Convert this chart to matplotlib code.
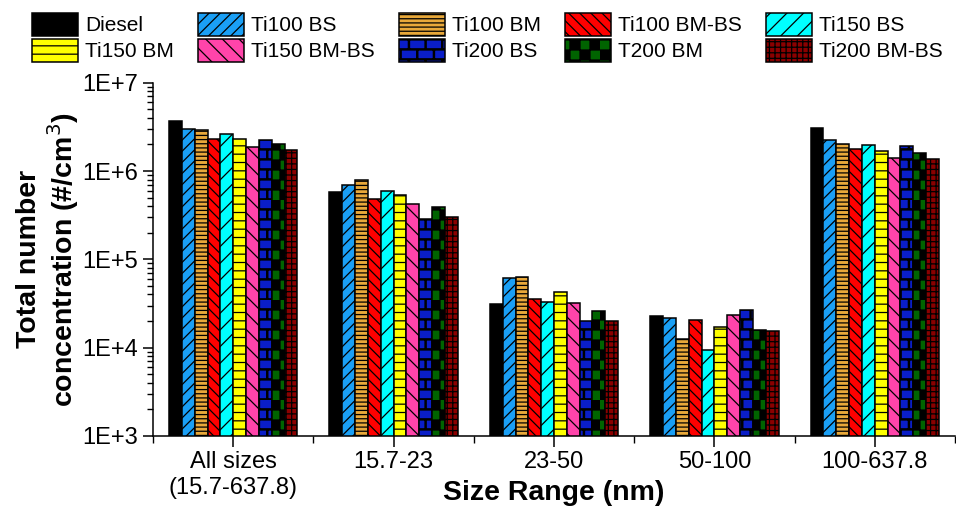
import numpy as np
import matplotlib
matplotlib.use("Agg")
import matplotlib.pyplot as plt
import matplotlib.hatch as mhatch
from matplotlib.path import Path
import warnings

warnings.filterwarnings("ignore")

# --- Data ---
size_ranges = ["All sizes\n(15.7-637.8)", "15.7-23", "23-50", "50-100", "100-637.8"]
fuels = ["Diesel", "Ti100 BS", "Ti100 BM", "Ti100 BM-BS", "Ti150 BS",
         "Ti150 BM", "Ti150 BM-BS", "Ti200 BS", "T200 BM", "Ti200 BM-BS"]

diesel = [3.7e6, 5.8e5, 3.1e4, 2.3e4, 3.05e6]
ti100_bs = [3.0e6, 7.0e5, 6.1e4, 2.15e4, 2.25e6]
ti100_bm = [2.9e6, 8.0e5, 6.25e4, 1.27e4, 2.04e6]
ti100_bmbs = [2.3e6, 4.8e5, 3.6e4, 2.05e4, 1.76e6]
ti150_bs = [2.6e6, 6.0e5, 3.3e4, 9.3e3, 1.98e6]
ti150_bm = [2.3e6, 5.3e5, 4.3e4, 1.7e4, 1.7e6]
ti150_bmbs = [1.88e6, 4.2e5, 3.2e4, 2.35e4, 1.42e6]
ti200_bs = [2.22e6, 2.9e5, 2.0e4, 2.7e4, 1.9e6]
t200_bm = [2.04e6, 3.9e5, 2.6e4, 1.57e4, 1.59e6]
ti200_bmbs = [1.71e6, 3.05e5, 2.0e4, 1.53e4, 1.38e6]

series = [diesel, ti100_bs, ti100_bm, ti100_bmbs, ti150_bs,
          ti150_bm, ti150_bmbs, ti200_bs, t200_bm, ti200_bmbs]

ytick_vals = [1e3, 1e4, 1e5, 1e6, 1e7]
ytick_labels = ["1E+3", "1E+4", "1E+5", "1E+6", "1E+7"]


# --- extra hatches: checkerboard ('c') and brick ('b') ---
def _rect(x0, y0, w, h):
    return [(x0, y0), (x0 + w, y0), (x0 + w, y0 + h), (x0, y0 + h), (x0, y0)]


class RectHatch(mhatch.HatchPatternBase):
    filled = True

    def __init__(self, hatch, density):
        self.rects = self.make_rects(hatch)
        self.num_vertices = 5 * len(self.rects)

    def set_vertices_and_codes(self, vertices, codes):
        for k, r in enumerate(self.rects):
            vertices[5 * k:5 * k + 5] = _rect(*r)
            codes[5 * k:5 * k + 5] = [Path.MOVETO, Path.LINETO, Path.LINETO,
                                      Path.LINETO, Path.CLOSEPOLY]


class CheckerHatch(RectHatch):
    def make_rects(self, hatch):
        n = 10 * hatch.count("c")
        if n == 0:
            return []
        s = 1.0 / n
        return [(i * s, j * s, s, s) for i in range(n) for j in range(n)
                if (i + j) % 2 == 0]


class BrickHatch(RectHatch):
    def make_rects(self, hatch):
        if hatch.count("b") == 0:
            return []
        rows, cols, t = 10, 6, 0.012
        h, w = 1.0 / rows, 1.0 / cols
        rects = []
        for r in range(rows):
            rects.append((0, r * h, 1, t))
            off = (r % 2) * w / 2
            for k in range(cols):
                rects.append((off + k * w, r * h + t, t, h - t))
        return rects


mhatch._hatch_types.extend([CheckerHatch, BrickHatch])

colors = ["black", "#1a9ff5", "#e8a83a", "#ff0000", "#00ffff",
          "#ffff00", "#ff44aa", "#0a1ec8", "#006400", "#8b0000"]
hatches = [None, "///", "----", "\\\\\\", "//",
           "--", "\\\\", "b", "c", "+++"]

plt.rcParams["font.family"] = ["Liberation Sans", "DejaVu Sans"]
plt.rcParams["hatch.linewidth"] = 0.9

fig = plt.figure(figsize=(9.56, 5.09), dpi=100)
ax = fig.add_axes([153 / 956, 73 / 509, 802 / 956, 353.3 / 509])
ax.set_yscale("log")

x = np.arange(1, len(size_ranges) + 1)
w = 0.08
bars = []
for k, vals in enumerate(series):
    b = ax.bar(x + (k - 4.5) * w, vals, w, color=colors[k], edgecolor="black",
               linewidth=1.1, hatch=hatches[k], label=fuels[k])
    bars.append(b)

ax.set_ylim(1e3, 1e7)
ax.set_xlim(0.5, 5.5)
ax.set_yticks(ytick_vals)
ax.set_yticklabels(ytick_labels)
ax.set_xticks(x)
ax.set_xticklabels(size_ranges)
ax.set_xticks(np.arange(0.5, 6, 1), minor=True)

for s in ["top", "right"]:
    ax.spines[s].set_visible(False)
for s in ["left", "bottom"]:
    ax.spines[s].set_linewidth(1.1)

ax.tick_params(axis="both", which="major", labelsize=17, width=1.1)
ax.tick_params(axis="y", which="major", length=7, pad=4)
ax.tick_params(axis="y", which="minor", length=4, width=1.0)
ax.tick_params(axis="x", which="major", length=8, pad=3)
ax.tick_params(axis="x", which="minor", length=5, width=1.0)

ax.set_xlabel("Size Range (nm)", fontsize=20.5, fontweight="bold")
ax.xaxis.set_label_coords(0.5, -0.125)
ax.set_ylabel("Total number\nconcentration (#/cm$^3$)", fontsize=20.5,
              fontweight="bold", linespacing=1.1)
ax.yaxis.set_label_coords(-0.09, 0.5)

# legend in 2 rows, filled row by row
order = [0, 5, 1, 6, 2, 7, 3, 8, 4, 9]
handles = [bars[i] for i in order]
labels = [fuels[i] for i in order]
fig.legend(handles, labels, ncol=5, loc="upper left",
           bbox_to_anchor=(32 / 956, 1 - 13 / 509), frameon=False,
           fontsize=15, handlelength=2.2, handleheight=1.3,
           handletextpad=0.35, columnspacing=1.15, labelspacing=0.15,
           borderpad=0, borderaxespad=0)

fig.savefig("out.png", dpi=100)
